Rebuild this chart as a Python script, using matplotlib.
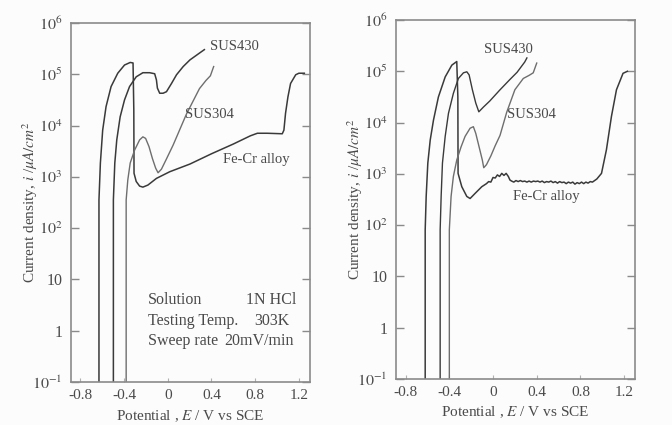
import matplotlib
matplotlib.use("Agg")
import matplotlib.pyplot as plt
import numpy as np

plt.rcParams['font.family'] = ['Liberation Serif', 'DejaVu Serif']
plt.rcParams['mathtext.fontset'] = 'stix'

# Data section (potential E in V vs SCE, log10 of current density in uA/cm2)

# left panel
L_fecr_E = [-0.63, -0.63, -0.617, -0.596, -0.565, -0.519, -0.458, -0.396, -0.344, -0.318, -0.311, -0.309,
            -0.289, -0.258, -0.228, -0.182, -0.104, 0.018, 0.203, 0.40, 0.60, 0.756, 0.82, 0.91, 1.048,
            1.063, 1.078, 1.100, 1.124, 1.171, 1.20, 1.25]
L_fecr_logI = [-1.5, 2.55, 3.27, 3.91, 4.37, 4.76, 5.02, 5.18, 5.23, 5.22, 4.3, 3.07,
               2.91, 2.82, 2.80, 2.84, 2.97, 3.10, 3.25, 3.45, 3.64, 3.80, 3.85, 3.85, 3.84,
               3.91, 4.24, 4.56, 4.82, 4.99, 5.02, 5.02]

L_430_E = [-0.498, -0.498, -0.485, -0.467, -0.436, -0.396, -0.350, -0.289, -0.228, -0.166, -0.120, -0.104,
           -0.095, -0.074, -0.043, -0.012, 0.034, 0.080, 0.141, 0.203, 0.295, 0.335]
L_430_logI = [-1.5, 2.55, 3.27, 3.72, 4.17, 4.50, 4.76, 4.95, 5.03, 5.03, 5.01, 4.89,
              4.73, 4.63, 4.63, 4.66, 4.82, 4.99, 5.15, 5.28, 5.42, 5.48]

L_304_E = [-0.381, -0.381, -0.366, -0.344, -0.304, -0.258, -0.228, -0.203, -0.172, -0.141, -0.111, -0.089,
           -0.058, -0.012, 0.049, 0.17, 0.29, 0.35, 0.39, 0.42]
L_304_logI = [-1.5, 2.55, 2.94, 3.27, 3.52, 3.72, 3.78, 3.75, 3.59, 3.36, 3.17, 3.08,
              3.15, 3.35, 3.62, 4.22, 4.72, 4.88, 4.97, 5.15]

# right panel
R_fecr_E = [-0.621, -0.621, -0.612, -0.597, -0.575, -0.545, -0.500, -0.438, -0.377, -0.332, -0.322, -0.320,
            -0.286, -0.240, -0.210, -0.164, -0.103, -0.06, -0.04, -0.02, 0.00, 0.02, 0.04, 0.06, 0.08, 0.10,
            0.12, 0.14, 0.155, 0.17, 0.19, 0.21, 0.23, 0.25, 0.27, 0.29, 0.31, 0.33, 0.35, 0.37, 0.39, 0.41,
            0.43, 0.45, 0.47, 0.49, 0.51, 0.53, 0.55, 0.57, 0.59, 0.61, 0.63, 0.65, 0.67, 0.69, 0.71, 0.73,
            0.75, 0.77, 0.79, 0.81, 0.83, 0.85, 0.87, 0.89, 0.91, 0.93, 0.95, 0.993, 1.038,
            1.084, 1.130, 1.190, 1.23]
R_fecr_logI = [-1.5, 1.91, 2.56, 3.21, 3.66, 4.05, 4.50, 4.89, 5.12, 5.19, 4.5, 3.01,
               2.75, 2.56, 2.52, 2.62, 2.75, 2.81, 2.85, 2.84, 2.93, 2.92, 2.98, 2.95, 3.01, 2.97,
               3.01, 2.95, 2.88, 2.86, 2.84, 2.87, 2.85, 2.87, 2.85, 2.86, 2.84, 2.86, 2.84, 2.86, 2.85, 2.86,
               2.84, 2.86, 2.83, 2.85, 2.84, 2.86, 2.83, 2.85, 2.82, 2.85, 2.83, 2.84, 2.81, 2.84, 2.82, 2.84,
               2.80, 2.83, 2.81, 2.84, 2.81, 2.84, 2.82, 2.85, 2.84, 2.87, 2.90, 3.01, 3.47,
               4.12, 4.64, 4.96, 5.0]

R_430_E = [-0.484, -0.484, -0.475, -0.463, -0.438, -0.408, -0.363, -0.317, -0.271, -0.240, -0.219, -0.189,
           -0.158, -0.130, -0.089, -0.03, 0.06, 0.15, 0.22, 0.29, 0.31]
R_430_logI = [-1.5, 1.91, 2.56, 3.21, 3.73, 4.18, 4.57, 4.86, 4.97, 4.99, 4.93, 4.64,
              4.38, 4.21, 4.30, 4.42, 4.63, 4.83, 4.98, 5.18, 5.26]

R_304_E = [-0.40, -0.40, -0.384, -0.363, -0.332, -0.292, -0.256, -0.210, -0.180, -0.158, -0.128, -0.098,
           -0.085, -0.06, -0.02, 0.02, 0.064, 0.125, 0.20, 0.277, 0.33, 0.368, 0.40]
R_304_logI = [-1.5, 1.91, 2.56, 2.95, 3.27, 3.53, 3.73, 3.89, 3.92, 3.79, 3.53, 3.27,
              3.12, 3.18, 3.35, 3.55, 3.75, 4.20, 4.64, 4.86, 4.92, 4.97, 5.16]

ytick_vals = [0.1, 1, 10, 100, 1e3, 1e4, 1e5, 1e6]
ytick_labels = ['$10^{-1}$', '1', '10', '$10^{2}$', '$10^{3}$', '$10^{4}$', '$10^{5}$', '$10^{6}$']
xtick_vals = [-0.8, -0.4, 0, 0.4, 0.8, 1.2]
xtick_labels = ['-0.8', '-0.4', '0', '0.4', '0.8', '1.2']

text_col = '#4a4a4a'
dark = '#3a3a3a'
light = '#6e6e6e'

fig = plt.figure(figsize=(6.72, 4.25), dpi=100)
fig.patch.set_facecolor('#fcfcfc')
ax1 = fig.add_axes([0.105, 0.101, 0.356, 0.845])
ax2 = fig.add_axes([0.589, 0.108, 0.356, 0.845])


def style(ax, xpad):
    ax.set_yscale('log')
    ax.set_xlim(-0.89, 1.30)
    ax.set_ylim(0.1, 1e6)
    ax.set_facecolor('#fcfcfc')
    ax.set_yticks(ytick_vals)
    ax.set_yticklabels(ytick_labels)
    ax.set_xticks(xtick_vals)
    ax.set_xticklabels(xtick_labels)
    ax.minorticks_off()
    ax.tick_params(axis='y', direction='in', length=6, width=1, color='#8a8a8a',
                   right=True, labelsize=11.5, labelcolor=text_col, pad=6)
    ax.tick_params(axis='x', direction='in', length=3, width=0.8, color='#b0b0b0',
                   labelsize=11, labelcolor=text_col, pad=5)
    for s in ax.spines.values():
        s.set_color('#8a8a8a')
        s.set_linewidth(1.2)
    ax.set_xlabel('Potential , $E$ / V vs SCE', fontsize=11, color=text_col, labelpad=xpad)
    ax.set_ylabel('Current density, $i$ /$\\mu A/cm^2$', fontsize=11, color=text_col, labelpad=-6)


style(ax1, 4.5)
style(ax2, 4)

ax1.plot(L_fecr_E, 10 ** np.array(L_fecr_logI), color=dark, lw=1.1)
ax1.plot(L_430_E, 10 ** np.array(L_430_logI), color=dark, lw=1.1)
ax1.plot(L_304_E, 10 ** np.array(L_304_logI), color=light, lw=1.0)

ax2.plot(R_fecr_E, 10 ** np.array(R_fecr_logI), color=dark, lw=1.1)
ax2.plot(R_430_E, 10 ** np.array(R_430_logI), color=dark, lw=1.0)
ax2.plot(R_304_E, 10 ** np.array(R_304_logI), color=light, lw=1.0)

lbl = dict(fontsize=10.5, color=text_col, ha='center', va='center')
ax1.text(0.61, 10 ** 5.54, 'SUS430', **lbl)
ax1.text(0.38, 10 ** 4.21, 'SUS304', **lbl)
ax1.text(0.81, 10 ** 3.33, 'Fe-Cr alloy', **lbl)
ax2.text(0.14, 10 ** 5.42, 'SUS430', **lbl)
ax2.text(0.35, 10 ** 4.15, 'SUS304', **lbl)
ax2.text(0.49, 10 ** 2.56, 'Fe-Cr alloy', **lbl)

info = dict(fontsize=11.5, color=text_col, ha='left', va='center')
ax1.text(-0.18, 10 ** 0.60, 'Solution', **info)
ax1.text(0.72, 10 ** 0.60, '1N HCl', **info)
ax1.text(-0.18, 10 ** 0.19, 'Testing Temp.', **info)
ax1.text(0.79, 10 ** 0.19, '303K', **info)
ax1.text(-0.18, 10 ** -0.20, 'Sweep rate', **info)
ax1.text(0.52, 10 ** -0.20, '20mV/min', **info)

plt.savefig('out.png', dpi=100, facecolor=fig.get_facecolor())
